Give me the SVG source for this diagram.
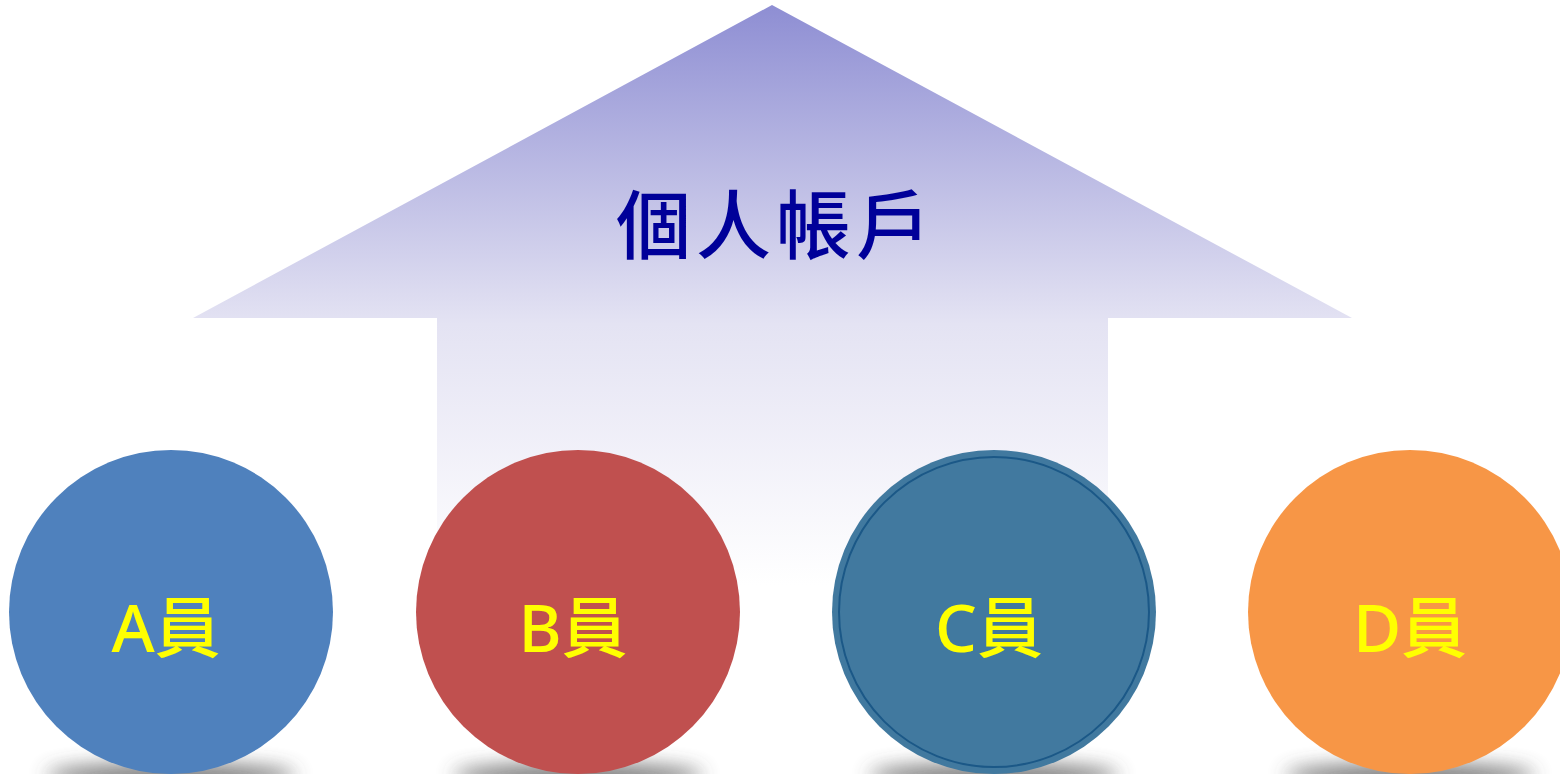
<svg xmlns="http://www.w3.org/2000/svg" width="1560" height="774" viewBox="0 0 1560 774">
<defs>
<linearGradient id="arrowGrad" x1="0" y1="5" x2="0" y2="585" gradientUnits="userSpaceOnUse">
<stop offset="0" stop-color="#8e8ed3"/>
<stop offset="0.55" stop-color="#e4e3f3"/>
<stop offset="1" stop-color="#ffffff"/>
</linearGradient>
<filter id="blur" x="-50%" y="-200%" width="200%" height="500%">
<feGaussianBlur stdDeviation="10"/>
</filter>
</defs>
<style>
.lbl{font-family:"Noto Sans","Noto Sans CJK TC",sans-serif;font-size:66px;font-weight:500;fill:#ffff00;text-anchor:middle}
.title{font-family:"Noto Sans CJK TC","Noto Sans CJK SC",sans-serif;font-size:75px;font-weight:500;fill:#000099;letter-spacing:5px}
.shadow{fill:#444444;opacity:0.75;filter:url(#blur)}
</style>
<rect width="1560" height="774" fill="#ffffff"/>
<g id="arrow">
<path d="M772,5 L1352,318 L1108,318 L1108,585 L437,585 L437,318 L193,318 Z" fill="url(#arrowGrad)"/>
<text class="title" x="616" y="253">個人帳戶</text>
</g>
<g id="connectors"></g>
<g id="nodeA">
<ellipse class="shadow" cx="171" cy="776" rx="125" ry="12"/>
<circle cx="171" cy="612" r="162" fill="#4f81bd"/>
<text class="lbl" x="166" y="652">A員</text>
</g>
<g id="nodeB">
<ellipse class="shadow" cx="578" cy="776" rx="125" ry="12"/>
<circle cx="578" cy="612" r="162" fill="#c0504f"/>
<text class="lbl" x="573" y="652">B員</text>
</g>
<g id="nodeC">
<ellipse class="shadow" cx="994" cy="776" rx="125" ry="12"/>
<circle cx="994" cy="612" r="162" fill="#41799f"/>
<circle cx="994" cy="612" r="155" fill="none" stroke="#1b5887" stroke-width="2"/>
<text class="lbl" x="989" y="652">C員</text>
</g>
<g id="nodeD">
<ellipse class="shadow" cx="1410" cy="776" rx="125" ry="12"/>
<circle cx="1410" cy="612" r="162" fill="#f79646"/>
<text class="lbl" x="1410" y="652">D員</text>
</g>
</svg>
